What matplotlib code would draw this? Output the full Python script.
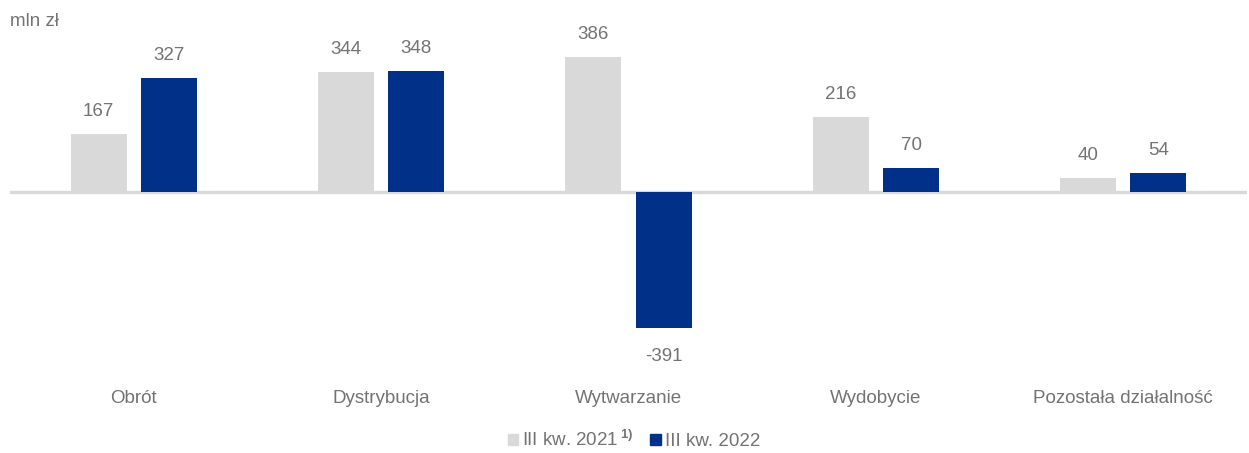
import matplotlib
matplotlib.use('Agg')
matplotlib.rcParams['font.family'] = ['Liberation Sans', 'DejaVu Sans']
matplotlib.rcParams['mathtext.fontset'] = 'custom'
matplotlib.rcParams['mathtext.rm'] = 'Liberation Sans'
matplotlib.rcParams['mathtext.bf'] = 'Liberation Sans:bold'
import matplotlib.pyplot as plt
import numpy as np
from matplotlib.patches import Patch

categories = ['Obrót', 'Dystrybucja', 'Wytwarzanie', 'Wydobycie', 'Pozostała działalność']
q3_2021 = [167, 344, 386, 216, 40]
q3_2022 = [327, 348, -391, 70, 54]
series_names = ['III kw. 2021$\\,^{\\mathbf{1)}}$', 'III kw. 2022']
unit_label = 'mln zł'

GRAY = '#d9d9d9'
BLUE = '#003087'
TEXT = '#737373'


def main():
    fig = plt.figure(figsize=(12.49, 4.53), dpi=100)
    ax = fig.add_axes([10 / 1249, 73 / 453, 1237 / 1249, 360 / 453])

    x = np.arange(len(categories))
    w = 0.226
    off = 0.142
    ax.bar(x - off, q3_2021, w, color=GRAY, zorder=2)
    ax.bar(x + off, q3_2022, w, color=BLUE, zorder=2)

    # etykiety wartości
    for xs, vals in ((x - off, q3_2021), (x + off, q3_2022)):
        for xi, v in zip(xs, vals):
            if v >= 0:
                ax.annotate(str(v), (xi, v), xytext=(0, 10), textcoords='offset points',
                            ha='center', va='bottom', fontsize=13.5, color=TEXT)
            else:
                ax.annotate(str(v), (xi, v), xytext=(0, -14), textcoords='offset points',
                            ha='center', va='top', fontsize=13.5, color=TEXT)

    ax.axhline(0, color=GRAY, lw=2.4, zorder=1)
    ax.set_xlim(-0.5, len(categories) - 0.5)
    ax.set_ylim(-538.7, 492.8)
    ax.set_xticks(x)
    ax.set_xticklabels(categories, fontsize=13.5, color=TEXT)
    ax.tick_params(axis='x', length=0, pad=7)
    ax.set_yticks([])
    for s in ax.spines.values():
        s.set_visible(False)

    fig.text(10 / 1249, 1 - 22 / 453, unit_label, fontsize=13.5, color=TEXT, va='center', ha='left')

    handles = [Patch(color=GRAY), Patch(color=BLUE)]
    fig.legend(handles, series_names, loc='center', bbox_to_anchor=(634 / 1249, 1 - 440 / 453),
               ncol=2, frameon=False, fontsize=13.5, labelcolor=TEXT,
               handlelength=0.55, handleheight=0.55, handletextpad=0.2, columnspacing=0.9)

    fig.savefig('out.png', dpi=100)


if __name__ == '__main__':
    main()
